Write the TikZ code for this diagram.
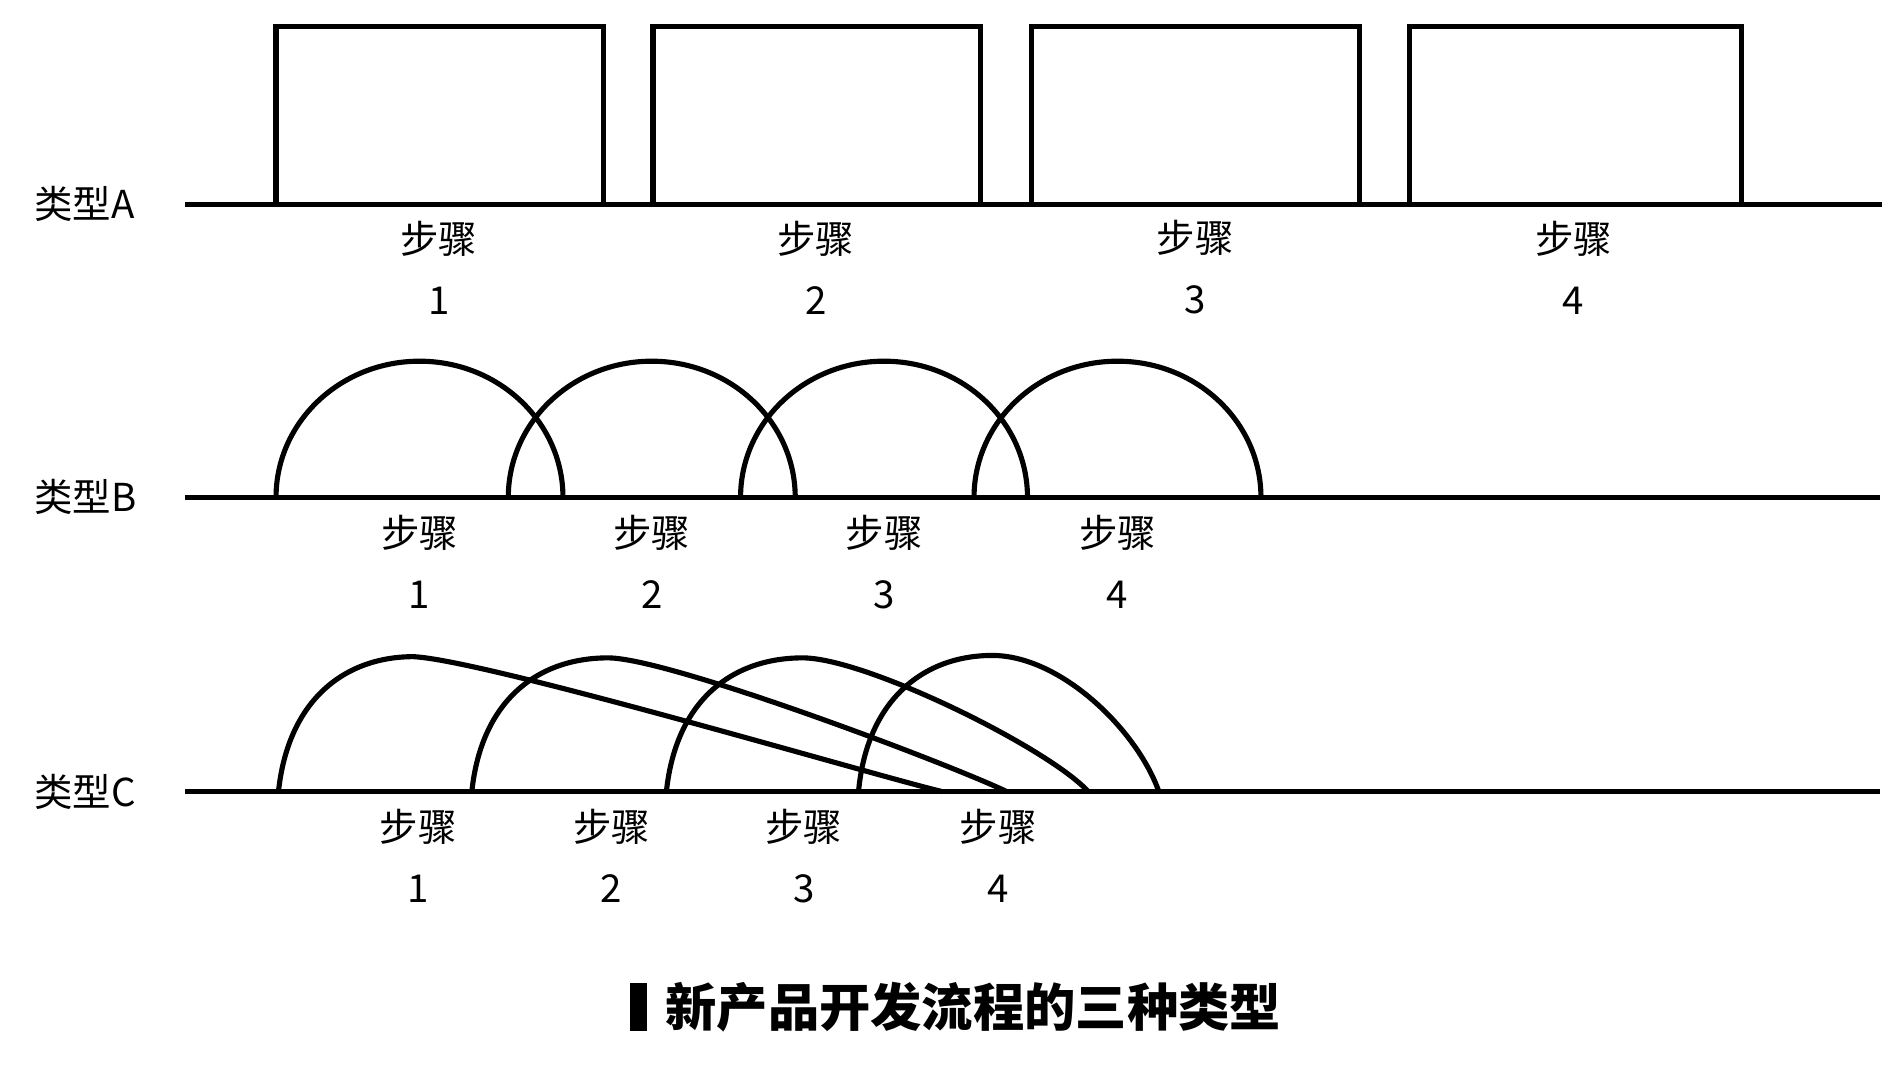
\documentclass[tikz,border=0pt]{standalone}
\usepackage{fontspec}
\setmainfont{Noto Sans CJK SC}
\usetikzlibrary{positioning}
\newcommand{\steplbl}[1]{步骤\\#1}

\begin{document}
\begin{tikzpicture}[
    x=0.02cm, y=-0.02cm,
    stage/.style={draw, line width=2.4pt},
    axis/.style={draw, line width=2.2pt},
    every node/.style={ inner sep=0pt,
                        align=center,
                        font=\fontsize{18}{28.5}\selectfont}]

    \useasboundingbox (0,0) rectangle (1560,875);

    % type A: one step after another
    \node[anchor=west] (ta) at (28,168) {类型A};
    \draw[axis] (152,168) -- (1548,168);
    \draw[stage] (227,168) |- (496,22) -- (496,168);
    \draw[stage] (537,168) |- (806,22) -- (806,168);
    \draw[stage] (848,168) |- (1118,22) -- (1118,168);
    \draw[stage] (1159,168) |- (1432,22) -- (1432,168);
    \node (a1) at (361,220) {\steplbl{1}};
    \node (a2) at (671,220) {\steplbl{2}};
    \node (a3) at (983,220) {\steplbl{3}};
    \node (a4) at (1294,220) {\steplbl{4}};

    % type B: overlap at the edges
    \node[anchor=west] (tb) at (28,409) {类型B};
    \draw[axis] (152,409) -- (1546,409);
    \draw[stage] (227,409) arc[start angle=180, end angle=0, x radius=2.36cm, y radius=2.24cm];
    \draw[stage] (418,409) arc[start angle=180, end angle=0, x radius=2.36cm, y radius=2.24cm];
    \draw[stage] (609,409) arc[start angle=180, end angle=0, x radius=2.36cm, y radius=2.24cm];
    \draw[stage] (801,409) arc[start angle=180, end angle=0, x radius=2.36cm, y radius=2.24cm];
    \node (b1) at (345,462) {\steplbl{1}};
    \node (b2) at (536,462) {\steplbl{2}};
    \node (b3) at (727,462) {\steplbl{3}};
    \node (b4) at (919,462) {\steplbl{4}};

    % type C: long overlapping tails
    \node[anchor=west] (tc) at (28,651) {类型C};
    \draw[axis] (152,651) -- (1546,651);
    \draw[stage] (229,651) .. controls (237,575) and (284,540) .. (340,540)
                           .. controls (400,543) and (720,638) .. (775,651);
    \draw[stage] (388,651) .. controls (396,575) and (443,541) .. (500,541)
                           .. controls (550,541) and (780,628) .. (828,651);
    \draw[stage] (548,651) .. controls (556,575) and (603,541) .. (660,541)
                           .. controls (712,541) and (862,615) .. (895,651);
    \draw[stage] (706,651) .. controls (713,575) and (760,539) .. (816,539)
                           .. controls (872,539) and (935,600) .. (953,651);
    \node (c1) at (344,704) {\steplbl{1}};
    \node (c2) at (503,704) {\steplbl{2}};
    \node (c3) at (661,704) {\steplbl{3}};
    \node (c4) at (821,704) {\steplbl{4}};

    % caption
    \fill (518,808) rectangle (532,848);
    \node[anchor=west, font=\fontsize{24}{24}\selectfont\bfseries] (title) at (547,828) {新产品开发流程的三种类型};

\end{tikzpicture}
\end{document}
